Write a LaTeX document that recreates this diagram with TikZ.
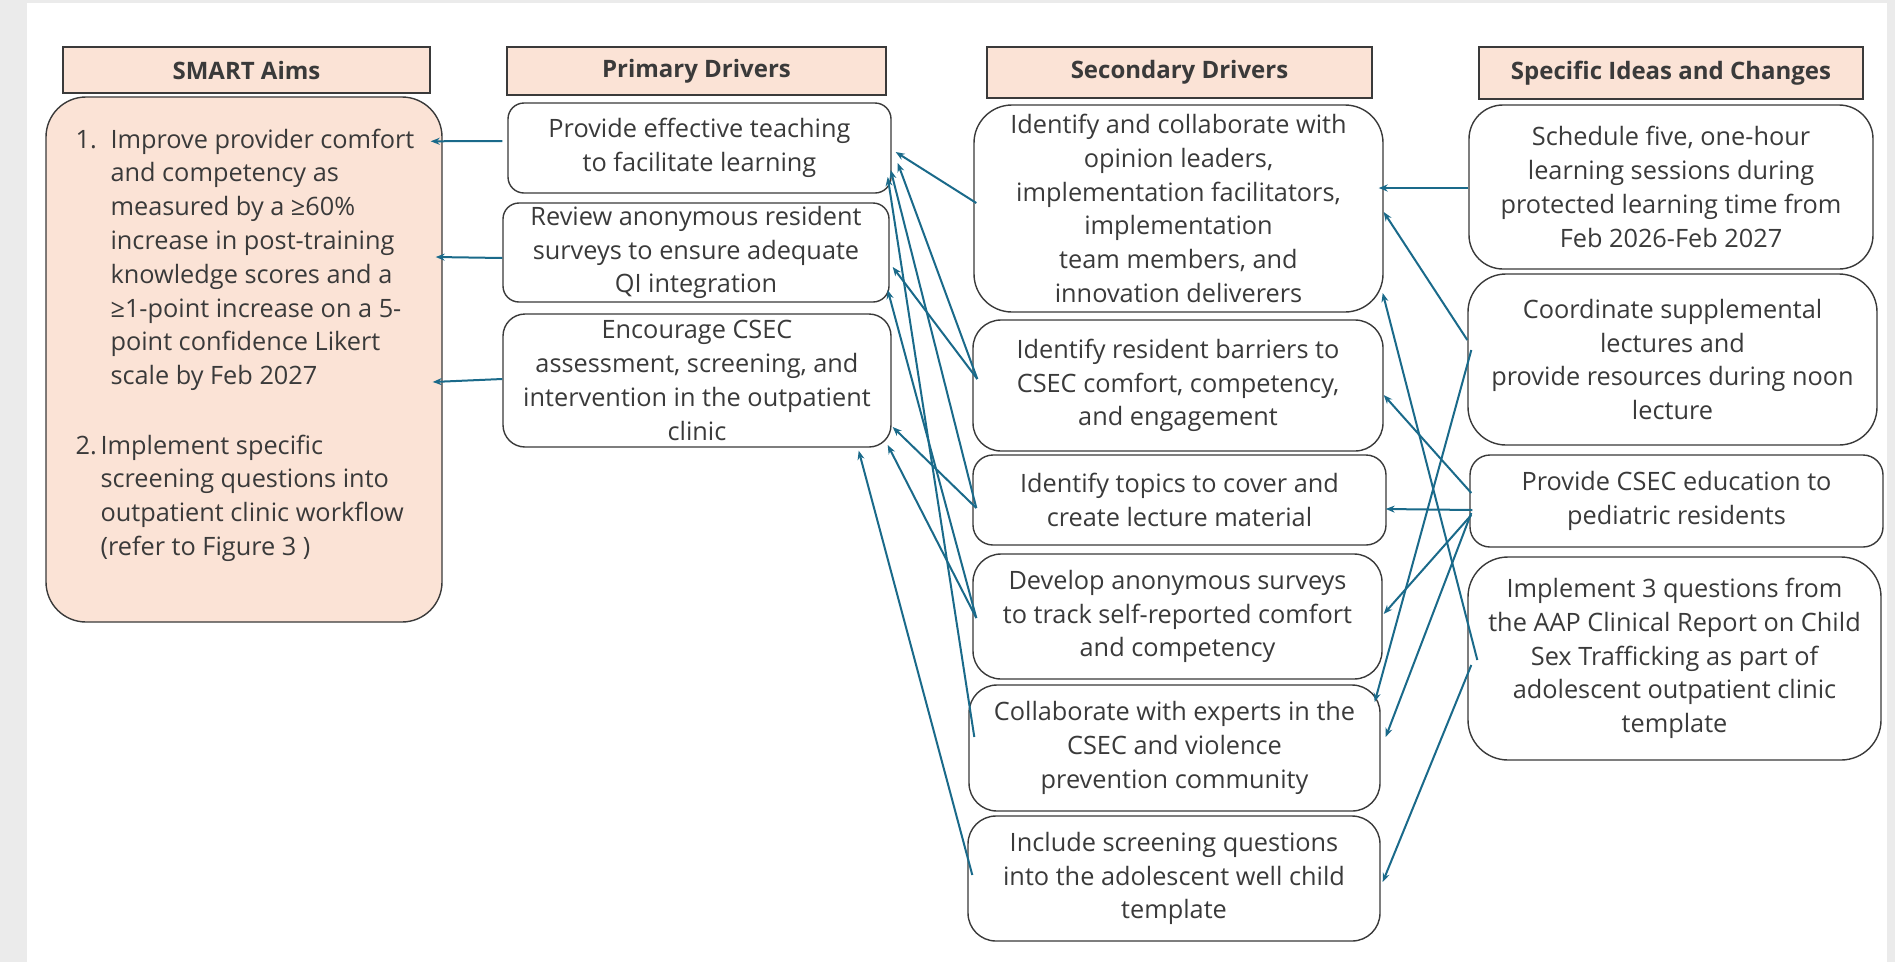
\documentclass[tikz,border=0pt]{standalone}
\usepackage{fontspec}
\setmainfont{Open Sans}
\usetikzlibrary{arrows.meta,calc}
\definecolor{peach}{HTML}{FBE3D6}
\definecolor{ink}{HTML}{3A3A3A}
\definecolor{linkblue}{HTML}{1A6A8A}
\definecolor{pagegray}{HTML}{EBEBEB}

\begin{document}
\begin{tikzpicture}[x=1pt,y=-1pt,
  txt/.style={font=\fontsize{25.3}{33.8}\selectfont, text=ink, align=center},
  box/.style={txt, draw=ink, line width=1.4pt, fill=white, rounded corners=#1, inner sep=0pt},
  box/.default=20pt,
  head/.style={draw=ink, line width=2pt, fill=peach, text=ink, inner sep=0pt,
    font=\fontsize{24}{28}\selectfont\bfseries},
  conn/.style={draw=linkblue, line width=2pt, -{Stealth[length=9pt,width=7pt]}},
]
% page background
\fill[pagegray] (0,0) rectangle (1895,962);
\fill[white] (27,3) rectangle (1887,962);

% column headers
\node[head, minimum width=367pt, minimum height=46pt] (hsmart) at (246.5,70) {SMART Aims};
\node[head, minimum width=379pt, minimum height=48pt] (hprim) at (696.5,71) {Primary Drivers};
\node[head, minimum width=385pt, minimum height=51pt] (hsec) at (1179.5,72.5) {Secondary Drivers};
\node[head, minimum width=384pt, minimum height=52pt] (hidea) at (1671,73) {Specific Ideas and Changes};

% SMART aims
\node[draw=ink, line width=1.4pt, fill=peach, rounded corners=40pt,
      minimum width=396pt, minimum height=525pt] (smart) at (244,359.5) {};
\node[txt, anchor=base west] (aimnum1) at (72,148) {1.};
\node[txt, anchor=base west] (aimtext1) at (107,148) {\begin{tabular}[t]{@{}l@{}}
Improve provider comfort\\
and competency as\\
measured by a ≥60\%\\
increase in post-training\\
knowledge scores and a\\
≥1-point increase on a 5-\\
point confidence Likert\\
scale by Feb 2027\end{tabular}};
\node[txt, anchor=base west] (aimnum2) at (72,454) {2.};
\node[txt, anchor=base west] (aimtext2) at (97,454) {\begin{tabular}[t]{@{}l@{}}
Implement specific\\
screening questions into\\
outpatient clinic workflow\\
(refer to Figure 3 )\end{tabular}};

% primary drivers
\node[box=16pt, minimum width=383pt, minimum height=90pt] (p1) at (699.5,148)
  {Provide effective teaching\\to facilitate learning};
\node[box=16pt, minimum width=386pt, minimum height=99pt] (p2) at (696,252.5)
  {Review anonymous resident\\surveys to ensure adequate\\QI integration};
\node[box=22pt, minimum width=388pt, minimum height=133pt] (p3) at (697,380.5)
  {Encourage CSEC\\assessment, screening, and\\intervention in the outpatient\\clinic};

% secondary drivers
\node[box=38pt, minimum width=409pt, minimum height=207pt] (s1) at (1178.5,208.5)
  {Identify and collaborate with\\opinion leaders,\\implementation facilitators,\\implementation\\team members, and\\innovation deliverers};
\node[box=28pt, minimum width=410pt, minimum height=131pt] (s2) at (1178,385.5)
  {Identify resident barriers to\\CSEC comfort, competency,\\and engagement};
\node[box=20pt, minimum width=413pt, minimum height=90pt] (s3) at (1179.5,500)
  {Identify topics to cover and\\create lecture material};
\node[box=28pt, minimum width=409pt, minimum height=125pt] (s4) at (1177.5,616.5)
  {Develop anonymous surveys\\to track self-reported comfort\\and competency};
\node[box=28pt, minimum width=411pt, minimum height=126pt] (s5) at (1174.5,748)
  {Collaborate with experts in the\\CSEC and violence\\prevention community};
\node[box=28pt, minimum width=412pt, minimum height=125pt] (s6) at (1174,878.5)
  {Include screening questions\\into the adolescent well child\\template};

% specific ideas and changes
\node[box=34pt, minimum width=404pt, minimum height=164pt] (i1) at (1671,187)
  {Schedule five, one-hour\\learning sessions during\\protected learning time from\\Feb 2026-Feb 2027};
\node[box=38pt, minimum width=409pt, minimum height=171pt] (i2) at (1672.5,359.5)
  {Coordinate supplemental\\lectures and\\provide resources during noon\\lecture};
\node[box=20pt, minimum width=413pt, minimum height=92pt] (i3) at (1676.5,501)
  {Provide CSEC education to\\pediatric residents};
\node[box=40pt, minimum width=413pt, minimum height=203pt] (i4) at (1674.5,658.5)
  {Implement 3 questions from\\the AAP Clinical Report on Child\\Sex Trafficking as part of\\adolescent outpatient clinic\\template};

% primary drivers -> SMART aims
\draw[conn] ($(p1.west)+(-5,-7)$) -- ($(smart.north east)+(-12,45)$);
\draw[conn] ($(p2.west)+(0,5.5)$) -- ($(smart.east)+(-7,-102.5)$);
\draw[conn] ($(p3.west)+(0,-1.5)$) -- ($(smart.east)+(-10,22.5)$);

% secondary drivers -> primary drivers
\draw[conn] ($(s1.west)+(3,-5.5)$) -- ($(p1.east)+(4,4)$);
\draw[conn] ($(s2.west)+(5,-6.5)$) -- ($(p1.east)+(6,15)$);
\draw[conn] ($(s2.west)+(5,-6.5)$) -- ($(p2.east)+(3,14.5)$);
\draw[conn] ($(s3.west)+(4,8)$) -- ($(p1.east)+(-1,22)$);
\draw[conn] ($(s3.west)+(4,8)$) -- ($(p3.east)+(1,46.5)$);
\draw[conn] ($(s4.west)+(4,1.5)$) -- ($(p2.east)+(-2,37.5)$);
\draw[conn] ($(s4.west)+(4,1.5)$) -- ($(p3.east)+(-4,64.5)$);
\draw[conn] ($(s5.west)+(6,-11)$) -- ($(p1.east)+(-4,29)$);
\draw[conn] ($(s6.west)+(5,-3.5)$) -- ($(p3.south east)+(-33,3)$);

% specific ideas -> secondary drivers
\draw[conn] ($(i1.west)+(0,1)$) -- ($(s1.east)+(-5,-20.5)$);
\draw[conn] ($(i2.west)+(0,-19.5)$) -- ($(s1.east)+(0,3.5)$);
\draw[conn] ($(i2.west)+(4,-9.5)$) -- ($(s5.east)+(-6,-46)$);
\draw[conn] ($(i3.west)+(2,-8)$) -- ($(s2.east)+(0,9.5)$);
\draw[conn] ($(i3.west)+(3,9)$) -- ($(s3.east)+(-1,9)$);
\draw[conn] ($(i3.west)+(2,14)$) -- ($(s4.east)+(1,-2.5)$);
\draw[conn] ($(i3.west)+(2,12)$) -- ($(s5.east)+(5,-11)$);
\draw[conn] ($(i4.west)+(10,1.5)$) -- ($(s1.east)+(-1,84.5)$);
\draw[conn] ($(i4.west)+(4,6.5)$) -- ($(s6.east)+(2,3.5)$);
\end{tikzpicture}
\end{document}
